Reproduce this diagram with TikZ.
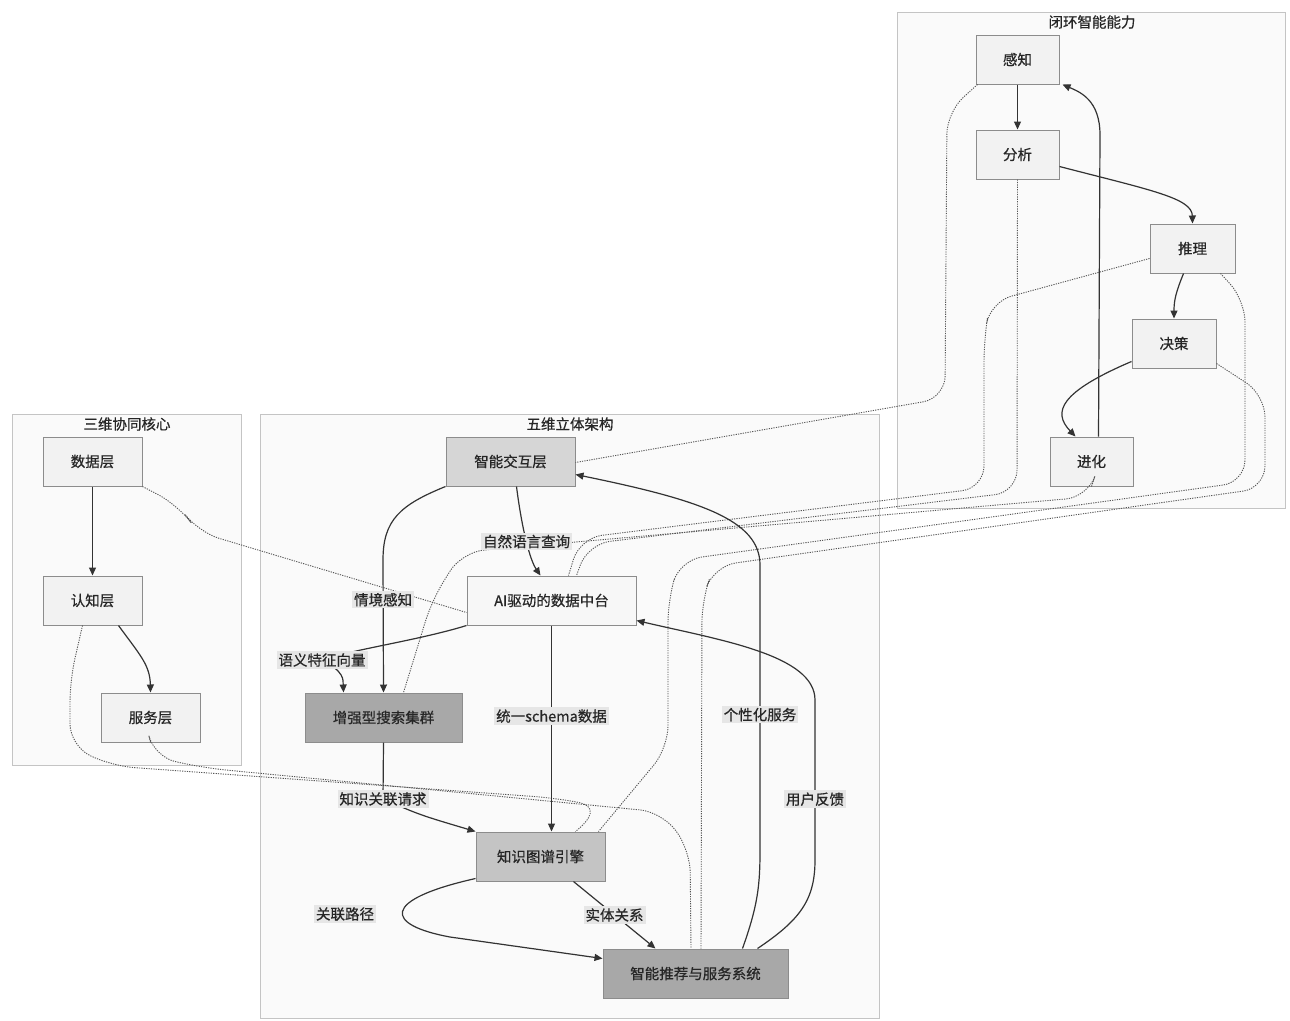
\documentclass[tikz,border=0pt]{standalone}
\usepackage{fontspec}
\newfontfamily\cjk[FakeBold=0.6]{Noto Sans CJK SC}
\usetikzlibrary{arrows.meta,positioning}
\definecolor{clusterfill}{HTML}{FAFAFA}
\definecolor{clusterline}{HTML}{C4C4C4}
\definecolor{boxline}{HTML}{8C8C8C}
\definecolor{edgeline}{HTML}{333333}
\definecolor{linkgray}{HTML}{555555}
\definecolor{tagbg}{HTML}{E6E6E6}
\definecolor{shadeA}{HTML}{F2F2F2}
\definecolor{shadeB}{HTML}{D6D6D6}
\definecolor{shadeC}{HTML}{C4C4C4}
\definecolor{shadeD}{HTML}{A8A8A8}
\definecolor{shadeE}{HTML}{F7F7F7}
\tikzset{
  every node/.style={
    font=\cjk\fontsize{14.5}{17}\selectfont,
    text=black!85
  },
  cluster/.style={
    draw=clusterline,
    fill=clusterfill,
    line width=0.9pt
  },
  layer/.style n args={2}{
    shape=rectangle,
    draw=boxline,
    fill=#1,
    line width=1pt,
    minimum width=#2,
    minimum height=49pt,
    inner sep=0pt
  },
  flow/.style={
    draw=edgeline,
    line width=1.2pt,
    -{Triangle[length=8pt,width=7pt]}
  },
  link/.style={
    draw=linkgray,
    line width=0.9pt,
    dash pattern=on 1.2pt off 1.2pt,
    rounded corners=22pt
  },
  tag/.style={
    fill=tagbg,
    inner sep=2pt
  }
}

\begin{document}
\begin{tikzpicture}[x=1pt,y=-1pt]
  \useasboundingbox (0,0) rectangle (1290,1020);
  \fill[white] (0,0) rectangle (1290,1020);
  % clusters
  \draw[cluster] (12,414) rectangle (241,765);
  \draw[cluster] (260,414) rectangle (879,1018);
  \draw[cluster] (897,12) rectangle (1285,508);
  \node (t3) at (127,424) {三维协同核心};
  \node (t5) at (570,424) {五维立体架构};
  \node (tloop) at (1092,22) {闭环智能能力};
  % three core layers
  \node[layer={shadeA}{99pt}] (data) at (92.5,461.5) {数据层};
  \node[layer={shadeA}{99pt}] (cog) at (92.5,600.5) {认知层};
  \node[layer={shadeA}{99pt}] (serv) at (150.5,717.5) {服务层};
  % five layers
  \node[layer={shadeB}{129pt}] (ui) at (510.5,461.5) {智能交互层};
  \node[layer={shadeE}{169pt}] (hub) at (551.5,600.5) {AI驱动的数据中台};
  \node[layer={shadeD}{157pt}] (search) at (383.5,717.5) {增强型搜索集群};
  \node[layer={shadeC}{129pt}] (kg) at (540.5,856.5) {知识图谱引擎};
  \node[layer={shadeD}{185pt}] (rec) at (695.5,973.5) {智能推荐与服务系统};
  % closed loop
  \node[layer={shadeA}{83pt}] (sense) at (1017.5,59.5) {感知};
  \node[layer={shadeA}{83pt}] (analy) at (1017.5,154.5) {分析};
  \node[layer={shadeA}{85pt}] (infer) at (1192.5,248.5) {推理};
  \node[layer={shadeA}{84pt}] (decide) at (1174,343.5) {决策};
  \node[layer={shadeA}{83pt}] (evolve) at (1091.5,461.5) {进化};

  % dotted links
  \draw[link] ([xshift=2pt]sense.south west) -- (947,112) -- (945,398) -- ([yshift=-1pt]ui.east);
  \draw[link] (analy.south) -- (1017,492) -- (588,544) -- ([xshift=25pt]hub.north);
  \draw[link] ([yshift=-10pt]infer.west) -- (990,302) -- (984,340) -- (984,488) -- (580,538) -- ([xshift=17pt]hub.north);
  \draw[link] (evolve.south) -- (1088,497) -- (462,552) -- (432,600) -- ([xshift=20pt]search.north);
  \draw[link] ([xshift=-15pt]infer.south east) -- (1245,300) -- (1245,482) -- (680,560) -- (668,600) -- (668,748) -- ([xshift=58pt]kg.north);
  \draw[link] ([yshift=-20pt]decide.east) -- (1265,395) -- (1265,488) -- (714,566) -- (702,600) -- ([xshift=5.5pt]rec.north);
  \draw[link] (data.south east) -- (178,505) -- (198,532) -- ([yshift=-12pt]hub.west);
  \draw[link] ([xshift=-10pt]cog.south) -- (70,680) -- (70,746) -- (112,766) -- (555,798) .. controls (598,806) and (592,818) .. ([xshift=35pt]kg.north);
  \draw[link] (serv.south) -- (154,757) -- (205,768) -- (662,812) -- (690,850) -- ([xshift=-4.5pt]rec.north);

  % three core flows
  \draw[flow] (data) -- (cog);
  \draw[flow] ([xshift=26pt]cog.south) .. controls (140,655) and (150,665) .. (serv.north);
  % closed loop flows
  \draw[flow] (sense) -- (analy);
  \draw[flow] ([yshift=-12pt]analy.east) .. controls (1150,190) and (1192,198) .. (infer.north);
  \draw[flow] ([xshift=-9pt]infer.south) .. controls (1176,292) and (1174,300) .. (decide.north);
  \draw[flow] ([yshift=-18pt]decide.west) .. controls (1060,392) and (1052,412) .. ([xshift=-16pt]evolve.north);
  \draw[flow] ([xshift=7pt]evolve.north) -- (1100,135) .. controls (1100,100) and (1080,92) .. ([xshift=3pt]sense.south east);
  % five layer flows
  \draw[flow] (ui.south west) .. controls (400,505) and (383,520) .. (383,560) -- node[tag,pos=0.3] {情境感知} (search.north);
  \draw[flow] ([xshift=6pt]ui.south) .. controls (522,530) and (530,560) .. node[tag,pos=0.5] {自然语言查询} ([xshift=-11pt]hub.north);
  \draw[flow] (hub.south west) .. controls (420,640) and (350,650) .. (322,660) node[tag] {语义特征向量} .. controls (345,672) and (343,680) .. ([xshift=-40pt]search.north);
  \draw[flow] (hub.south) -- node[tag,pos=0.44] {统一schema数据} (hub.south |- kg.north);
  \draw[flow] (search.south) -- (383,799) node[tag] {知识关联请求} .. controls (420,815) .. (kg.north west);
  \draw[flow] ([xshift=33pt]kg.south) -- node[tag] {实体关系} ([xshift=-40pt]rec.north);
  \draw[flow] ([yshift=3pt]kg.south west) .. controls (380,900) and (385,925) .. (450,937) -- ([yshift=15pt]rec.west);
  \node[tag] (pathtag) at (345,914) {关联路径};
  \draw[flow] ([xshift=47pt]rec.north) .. controls (758,905) and (760,885) .. (760,850) -- node[tag,pos=0.475] {个性化服务} (760,565) .. controls (760,520) and (700,500) .. ([yshift=-13pt]ui.east);
  \draw[flow] ([xshift=62pt]rec.north) .. controls (800,920) and (815,900) .. (815,860) -- node[tag,pos=0.38] {用户反馈} (815,700) .. controls (815,655) and (720,640) .. ([yshift=-20pt]hub.east);
\end{tikzpicture}
\end{document}
